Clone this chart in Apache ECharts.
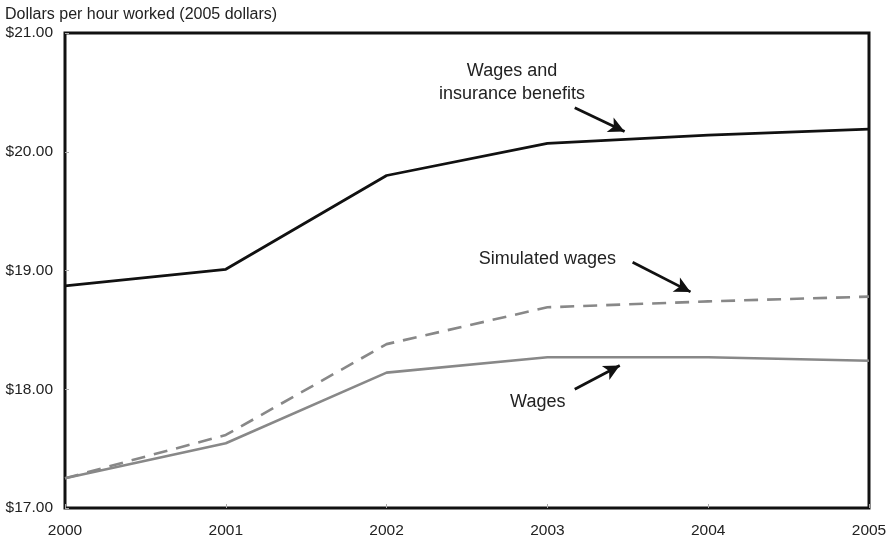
<!DOCTYPE html>
<html><head><meta charset="utf-8">
<script src="https://cdn.jsdelivr.net/npm/echarts@6/dist/echarts.min.js"></script>
<style>html,body{margin:0;padding:0;background:#fff}#c{width:894px;height:539px}</style>
</head><body><div id="c"></div>
<script>
const years = [2000, 2001, 2002, 2003, 2004, 2005];
const wagesInsurance = [18.87, 19.01, 19.80, 20.07, 20.14, 20.19];
const simulatedWages = [17.25, 17.615, 18.38, 18.69, 18.74, 18.78];
const wages = [17.25, 17.545, 18.14, 18.27, 18.27, 18.24];
const yTicks = [17, 18, 19, 20, 21];
const yAxisTitle = 'Dollars per hour worked (2005 dollars)';
const notes = [
  {text: 'Wages and\ninsurance benefits', at: [2002.78, 20.58], from: [2003.17, 20.37], to: [2003.48, 20.17]},
  {text: 'Simulated wages', at: [2003.0, 19.10], from: [2003.53, 19.07], to: [2003.89, 18.82]},
  {text: 'Wages', at: [2002.94, 17.89], from: [2003.17, 18.00], to: [2003.45, 18.20]}
];
const font = 'Liberation Sans, Arial, sans-serif';
const chart = echarts.init(document.getElementById('c'));
const pair = (xs, ys) => xs.map((x, i) => [x, ys[i]]);
chart.setOption({
  animation: false,
  grid: {left: 65, right: 25, top: 33, bottom: 31, show: true, borderColor: '#111', borderWidth: 3, backgroundColor: 'transparent'},
  xAxis: {type: 'value', min: 2000, max: 2005, interval: 1,
    axisLine: {show: false}, splitLine: {show: false},
    axisTick: {show: true, inside: true, length: 4, lineStyle: {color: '#aaa'}},
    axisLabel: {color: '#222', fontFamily: font, fontSize: 15.5, margin: 15, formatter: v => String(v)}},
  yAxis: {type: 'value', min: 17, max: 21, interval: 1,
    axisLine: {show: false}, splitLine: {show: false},
    axisTick: {show: true, inside: true, length: 4, lineStyle: {color: '#aaa'}},
    axisLabel: {color: '#222', fontFamily: font, fontSize: 15.5, margin: 12, formatter: v => '$' + v.toFixed(2)}},
  series: [
    {type: 'line', data: pair(years, wagesInsurance), symbol: 'none', lineStyle: {color: '#111', width: 2.8}},
    {type: 'line', data: pair(years, simulatedWages), symbol: 'none', lineStyle: {color: '#888', width: 2.6, type: [14, 9]}},
    {type: 'line', data: pair(years, wages), symbol: 'none', lineStyle: {color: '#888', width: 2.6},
      markLine: {silent: true, symbol: ['none', 'arrow'], symbolSize: [12, 16], label: {show: false},
        lineStyle: {color: '#111', width: 2.8, type: 'solid'},
        data: notes.map(n => [{coord: n.from}, {coord: n.to}])}}
  ]
});
const g = [{type: 'text', left: 5, top: 7, style: {text: yAxisTitle, font: '16px ' + font, fill: '#222'}}];
notes.forEach(n => {
  const p = chart.convertToPixel({gridIndex: 0}, n.at);
  g.push({type: 'text', x: p[0], y: p[1], style: {text: n.text, font: '18px ' + font, fill: '#222', align: 'center', verticalAlign: 'middle', lineHeight: 23}});
});
chart.setOption({graphic: g});
</script></body></html>
